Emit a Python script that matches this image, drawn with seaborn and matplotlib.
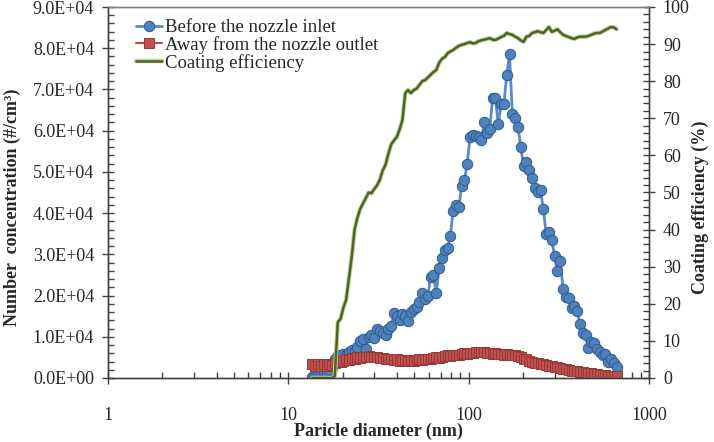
import numpy as np
import matplotlib
matplotlib.use("Agg")
import matplotlib.pyplot as plt
import matplotlib.patheffects as pe
import seaborn as sns
from matplotlib.ticker import FuncFormatter, MultipleLocator, LogLocator, NullFormatter

# SMPS channel midpoints (nm)
diameter = [
    13.6, 14.1, 14.6, 15.1, 15.7, 16.3, 16.8, 17.5, 18.1, 18.8,
    19.5, 20.2, 20.9, 21.7, 22.5, 23.3, 24.1, 25.0, 25.9, 26.9,
    27.9, 28.9, 30.0, 31.1, 32.2, 33.4, 34.6, 35.9, 37.2, 38.5,
    40.0, 41.4, 42.9, 44.5, 46.1, 47.8, 49.6, 51.4, 53.3, 55.2,
    57.3, 59.4, 61.5, 63.8, 66.1, 68.5, 71.0, 73.7, 76.4, 79.1,
    82.0, 85.1, 88.2, 91.4, 94.7, 98.2, 101.8, 105.5, 109.4, 113.4,
    117.6, 121.9, 126.3, 131.0, 135.8, 140.7, 145.9, 151.2, 156.8, 162.5,
    168.5, 174.7, 181.1, 187.7, 194.6, 201.7, 209.1, 216.7, 224.7, 232.9,
    241.4, 250.3, 259.5, 269.0, 278.8, 289.0, 299.6, 310.6, 322.0, 333.8,
    346.0, 358.7, 371.8, 385.4, 399.5, 414.2, 429.4, 445.1, 461.4, 478.3,
    495.8, 514.0, 532.8, 552.3, 572.5, 593.5, 615.3, 637.8, 661.2,
]

# number concentration, x 1E4 #/cm3
before_inlet = [
    0.03, 0.05, 0.08, 0.10, 0.15, 0.12, 0.20, 0.30, 0.45, 0.55,
    0.50, 0.58, 0.55, 0.62, 0.68, 0.65, 0.75, 0.90, 0.95, 0.70,
    1.00, 1.05, 0.98, 1.20, 1.15, 1.10, 1.05, 1.20, 1.25, 1.58,
    1.50, 1.40, 1.55, 1.50, 1.38, 1.60, 1.68, 1.72, 1.85, 2.05,
    1.92, 2.00, 2.45, 2.50, 2.05, 2.68, 2.90, 3.10, 3.15, 3.45,
    4.05, 4.20, 4.15, 4.65, 4.80, 5.20, 5.85, 5.90, 5.88, 5.85,
    5.78, 6.20, 5.95, 6.05, 6.80, 6.80, 6.15, 6.65, 6.65, 7.35,
    7.85, 6.40, 6.30, 6.10, 5.60, 5.15, 5.25, 5.05, 4.85, 4.60,
    4.52, 4.55, 4.10, 3.50, 3.55, 3.35, 2.95, 2.60, 2.85, 2.15,
    1.97, 1.95, 1.70, 1.75, 1.63, 1.30, 1.10, 1.05, 0.72, 0.88,
    0.85, 0.70, 0.62, 0.55, 0.58, 0.40, 0.45, 0.36, 0.27,
]

away_outlet = [
    0.33, 0.30, 0.35, 0.28, 0.33, 0.30, 0.35, 0.32, 0.36, 0.38,
    0.40, 0.42, 0.45, 0.44, 0.48, 0.47, 0.50, 0.49, 0.52, 0.50,
    0.53, 0.52, 0.51, 0.50, 0.48, 0.49, 0.46, 0.47, 0.45, 0.44,
    0.45, 0.42, 0.44, 0.43, 0.41, 0.44, 0.42, 0.43, 0.45, 0.44,
    0.46, 0.45, 0.47, 0.48, 0.50, 0.49, 0.52, 0.53, 0.55, 0.54,
    0.56, 0.57, 0.56, 0.58, 0.60, 0.59, 0.61, 0.60, 0.63, 0.62,
    0.64, 0.62, 0.60, 0.61, 0.59, 0.60, 0.58, 0.59, 0.57, 0.58,
    0.56, 0.57, 0.55, 0.53, 0.50, 0.47, 0.45, 0.42, 0.40, 0.37,
    0.36, 0.34, 0.33, 0.31, 0.30, 0.28, 0.27, 0.26, 0.24, 0.23,
    0.21, 0.20, 0.18, 0.17, 0.16, 0.15, 0.14, 0.13, 0.12, 0.11,
    0.10, 0.09, 0.08, 0.08, 0.07, 0.06, 0.05, 0.05, 0.04,
]

# coating efficiency (%)
coating_eff = [
    0, 0, 0, 0, 0, 0, 0, 0, 0.5, 15,
    16, 19, 21, 27, 33, 40, 43, 45.5, 47, 48.5,
    50, 49.8, 51, 52, 53.5, 56, 57.5, 60.5, 63, 64,
    65, 67, 69.5, 76.8, 77.6, 76.8, 77.6, 78, 79, 80,
    80.3, 81, 81.7, 82.5, 83, 84.9, 86, 86.5, 87.5, 88,
    88.4, 89, 89.5, 89.8, 90, 90.3, 90.5, 90.2, 90.3, 90.8,
    91, 91.2, 91.4, 91.6, 91.2, 91.1, 91.5, 91.9, 92.2, 93,
    92.7, 92.5, 92, 91.6, 91, 90.6, 92, 92.2, 93, 93.2,
    93.5, 93.2, 93, 93.8, 94.6, 93.3, 93.6, 94, 93.2, 92.5,
    92.2, 91.9, 91.6, 91.4, 91.8, 92, 92, 92, 92.2, 92.5,
    92.8, 93, 93, 93.4, 93.8, 94.2, 94.6, 94.5, 94,
]

before = np.array(before_inlet) * 1e4
away = np.array(away_outlet) * 1e4

sns.set_style("ticks")
plt.rcParams['font.family'] = ['Liberation Serif', 'DejaVu Serif']
plt.rcParams['font.size'] = 13

fig = plt.figure(figsize=(7.14, 4.42), dpi=100)
ax = fig.add_axes([108/714, 1 - 378/442, (649 - 108)/714, (378 - 7)/442])
ax2 = ax.twinx()

sns.lineplot(x=diameter, y=before, ax=ax, sort=False, color='#5A8BC8', lw=2,
             marker='o', ms=7.5, mfc='#4F81BD', mec='#2F5A8E', mew=0.7, legend=False)
sns.lineplot(x=diameter, y=away, ax=ax, sort=False, color='#BE4B48', lw=1.5,
             marker='s', ms=7, mfc='#C0504D', mec='#983A37', mew=0.7, legend=False)
sns.lineplot(x=diameter, y=coating_eff, ax=ax2, sort=False, color='#4F6228', lw=1.8,
             legend=False,
             path_effects=[pe.Stroke(linewidth=3.2, foreground='#C2D49A'), pe.Normal()])

ax.set_xscale('log')
ax.set_xlim(1, 1000)
ax.set_ylim(0, 9e4)
ax2.set_ylim(0, 100)

ax.xaxis.set_major_locator(LogLocator(base=10))
ax.xaxis.set_minor_locator(LogLocator(base=10, subs=np.arange(2, 10)))
ax.xaxis.set_minor_formatter(NullFormatter())
ax.xaxis.set_major_formatter(FuncFormatter(lambda v, p: f"{v:g}"))
ax.yaxis.set_major_locator(MultipleLocator(1e4))
ax.yaxis.set_minor_locator(MultipleLocator(2e3))
ax.yaxis.set_major_formatter(FuncFormatter(lambda v, p: f"{v:.1E}"))
ax2.yaxis.set_major_locator(MultipleLocator(10))
ax2.yaxis.set_minor_locator(MultipleLocator(2))

tick_col = '#404040'
ax.tick_params(axis='x', which='major', direction='inout', length=8, width=1,
               color=tick_col, pad=17, top=False)
ax.tick_params(axis='x', which='minor', direction='in', length=4, width=1,
               color=tick_col, top=False)
ax.tick_params(axis='y', which='major', direction='inout', length=8, width=1,
               color=tick_col, pad=6, right=False)
ax.tick_params(axis='y', which='minor', direction='in', length=4, width=1,
               color=tick_col, right=False)
ax2.tick_params(axis='y', which='major', direction='inout', length=8, width=1,
                color=tick_col, pad=6)
ax2.tick_params(axis='y', which='minor', direction='in', length=4, width=1,
                color=tick_col)

for a in (ax, ax2):
    for s in a.spines.values():
        s.set_color(tick_col)
        s.set_linewidth(1)
    a.spines['top'].set_color('#808080')

ax.set_xlabel("Paricle diameter (nm)", fontweight='bold')
ax.set_ylabel("Number  concentration (#/cm³)", fontweight='bold')
ax2.set_ylabel("Coating efficiency (%)", fontweight='bold')
ax.xaxis.set_label_coords(0.5, -0.12)
ax.yaxis.set_label_coords(-0.161, 0.46)
ax2.yaxis.set_label_coords(1.078, 0.46)

handles = [ax.lines[0], ax.lines[1], ax2.lines[0]]
labels = ["Before the nozzle inlet", "Away from the nozzle outlet", "Coating efficiency"]
ax2.legend(handles, labels, loc='upper left', bbox_to_anchor=(136/714, 1 - 19/442),
           bbox_transform=fig.transFigure, frameon=False, fontsize=13.5,
           borderpad=0, borderaxespad=0, handlelength=1.4, handletextpad=0.15,
           labelspacing=0.0)

fig.savefig("out.png", dpi=100)
